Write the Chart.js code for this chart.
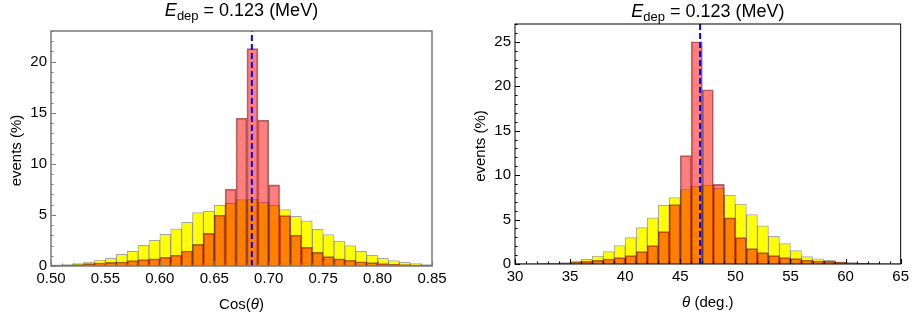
<!DOCTYPE html>
<html>
<head>
<meta charset="utf-8">
<script src="https://cdn.jsdelivr.net/npm/chart.js@4.4.1/dist/chart.umd.min.js"></script>
<style>
  body { margin: 0; background: #fff; }
  .panel { position: absolute; top: 0; height: 320px; }
</style>
</head>
<body>
<div class="panel" style="left:0;width:456px"><canvas id="cosChart" width="456" height="320"></canvas></div>
<div class="panel" style="left:456px;width:457px"><canvas id="thetaChart" width="457" height="320"></canvas></div>
<script>
// ---- data (events in %) ----
const cosEdges = [0.50, 0.51, 0.52, 0.53, 0.54, 0.55, 0.56, 0.57, 0.58, 0.59,
                  0.60, 0.61, 0.62, 0.63, 0.64, 0.65, 0.66, 0.67, 0.68, 0.69,
                  0.70, 0.71, 0.72, 0.73, 0.74, 0.75, 0.76, 0.77, 0.78, 0.79,
                  0.80, 0.81, 0.82, 0.83, 0.84];
const cosYellow = [0.12, 0.15, 0.23, 0.39, 0.59, 0.75, 1.14, 1.44, 2.03, 2.52,
                   3.10, 3.63, 4.28, 5.23, 5.36, 5.95, 6.14, 6.50, 6.54, 6.24,
                   5.95, 5.52, 4.87, 4.41, 3.60, 3.07, 2.45, 2.00, 1.44, 1.05,
                   0.75, 0.52, 0.36, 0.23, 0.13];
const cosRed = [0.07, 0.08, 0.13, 0.23, 0.29, 0.36, 0.39, 0.52, 0.62, 0.69,
                0.85, 1.05, 1.47, 2.12, 3.20, 4.97, 7.52, 14.48, 21.27, 14.28,
                7.94, 4.93, 3.01, 1.83, 1.34, 0.92, 0.69, 0.56, 0.42, 0.33,
                0.23, 0.16, 0.13, 0.10, 0.07];
const cosTicks = [0.50, 0.55, 0.60, 0.65, 0.70, 0.75, 0.80, 0.85];
const cosCountTicks = [0, 5, 10, 15, 20];
const cosPeak = 0.6845;

const thetaEdges = [30, 31, 32, 33, 34, 35, 36, 37, 38, 39,
                    40, 41, 42, 43, 44, 45, 46, 47, 48, 49,
                    50, 51, 52, 53, 54, 55, 56, 57, 58, 59,
                    60, 61, 62, 63, 64];
const thetaYellow = [0.03, 0.03, 0.05, 0.07, 0.15, 0.34, 0.53, 0.90, 1.39, 2.07,
                     2.97, 4.10, 5.19, 6.60, 7.48, 8.38, 8.76, 8.87, 8.50, 7.73,
                     6.73, 5.57, 4.29, 3.12, 2.30, 1.51, 0.83, 0.57, 0.40, 0.25,
                     0.15, 0.10, 0.06, 0.04, 0.03];
const thetaRed = [0.02, 0.02, 0.04, 0.06, 0.11, 0.23, 0.30, 0.41, 0.56, 0.71,
                  0.94, 1.39, 2.07, 3.65, 6.69, 12.2, 25.0, 19.6, 8.95, 5.19,
                  2.97, 1.73, 1.28, 0.94, 0.72, 0.60, 0.42, 0.34, 0.30, 0.20,
                  0.12, 0.07, 0.05, 0.03, 0.02];
const thetaTicks = [30, 35, 40, 45, 50, 55, 60, 65];
const thetaCountTicks = [0, 5, 10, 15, 20, 25];
const thetaPeak = 46.8;

const FONT = '"Liberation Sans", Arial, sans-serif';
Chart.defaults.font.family = FONT;
Chart.defaults.color = '#000';

// draw a line of mixed-style text centred at (x, y)
function drawRich(ctx, parts, x, y) {
    let total = 0;
    parts.forEach(p => {
        ctx.font = (p.italic ? 'italic ' : '') + p.size + 'px ' + FONT;
        p.w = ctx.measureText(p.t).width;
        total += p.w;
    });
    let cx = x - total / 2;
    ctx.textAlign = 'left';
    ctx.textBaseline = 'alphabetic';
    parts.forEach(p => {
        ctx.font = (p.italic ? 'italic ' : '') + p.size + 'px ' + FONT;
        ctx.fillText(p.t, cx, y + (p.dy || 0));
        cx += p.w;
    });
}

// frame, inward ticks and the rich-text titles
const framePlugin = {
    id: 'frame',
    afterDraw(chart, args, o) {
        const ctx = chart.ctx;
        const a = chart.chartArea;
        const xs = chart.scales.x, ys = chart.scales.y;
        ctx.save();
        ctx.strokeStyle = o.color;
        ctx.lineWidth = o.width;
        ctx.strokeRect(a.left, a.top, a.right - a.left, a.bottom - a.top);
        ctx.lineWidth = 1;
        ctx.beginPath();
        for (let v = o.xMin; v <= o.xMax + 1e-9; v += o.xMinor) {
            const px = Math.round(xs.getPixelForValue(v)) + 0.5;
            ctx.moveTo(px, a.bottom);
            ctx.lineTo(px, a.bottom - 2.5);
        }
        o.xTicks.forEach(v => {
            const px = Math.round(xs.getPixelForValue(v)) + 0.5;
            ctx.moveTo(px, a.bottom);
            ctx.lineTo(px, a.bottom - 5);
        });
        for (let v = 0; v <= o.yMax; v += 1) {
            const py = Math.round(ys.getPixelForValue(v)) + 0.5;
            ctx.moveTo(a.left, py);
            ctx.lineTo(a.left + (v % 5 === 0 ? 5 : 2.5), py);
        }
        ctx.stroke();

        ctx.fillStyle = '#000';
        const cx = (a.left + a.right) / 2;
        drawRich(ctx, [
            { t: 'E', size: 18, italic: true },
            { t: 'dep', size: 13, dy: 4 },
            { t: ' = 0.123 (MeV)', size: 18 }
        ], cx, o.titleY);
        drawRich(ctx, o.xTitle, cx, o.xTitleY);
        ctx.save();
        ctx.translate(o.yTitleX, (a.top + a.bottom) / 2 + 2);
        ctx.rotate(-Math.PI / 2);
        drawRich(ctx, [{ t: 'events (%)', size: 15 }], 0, 0);
        ctx.restore();
        ctx.restore();
    }
};

function makeHistogram(id, s) {
    const half = s.binWidth / 2;
    const toPoints = vals => s.edges.map((e, i) => ({ x: e + half, y: vals[i] }));
    return new Chart(document.getElementById(id), {
        type: 'bar',
        data: {
            datasets: [
                {
                    type: 'line',
                    data: [{ x: s.peak, y: 0 }, { x: s.peak, y: s.yMax }],
                    borderColor: '#0000ff',
                    borderWidth: 2,
                    borderDash: [6, 3],
                    pointRadius: 0,
                    order: 0
                },
                {
                    data: toPoints(s.red),
                    backgroundColor: 'rgba(255,0,0,0.5)',
                    borderColor: 'rgba(90,0,0,0.55)',
                    borderWidth: 1,
                    grouped: false,
                    barPercentage: 1,
                    categoryPercentage: 1,
                    order: 1
                },
                {
                    data: toPoints(s.yellow),
                    backgroundColor: '#ffff00',
                    borderColor: 'rgba(0,0,0,0.35)',
                    borderWidth: 1,
                    grouped: false,
                    barPercentage: 1,
                    categoryPercentage: 1,
                    order: 2
                }
            ]
        },
        options: {
            responsive: false,
            animation: false,
            layout: { padding: { top: s.box.top, right: s.box.right, left: 0, bottom: 0 } },
            scales: {
                x: {
                    type: 'linear',
                    min: s.xMin,
                    max: s.xMax,
                    offset: false,
                    grid: { display: false, drawTicks: false, offset: false },
                    border: { display: false },
                    afterBuildTicks: sc => { sc.ticks = s.xTicks.map(v => ({ value: v })); },
                    afterFit: sc => { sc.height = s.box.bottom; },
                    ticks: {
                        font: { size: 15 },
                        padding: 4,
                        maxRotation: 0,
                        autoSkip: false,
                        callback: v => v.toFixed(s.decimals)
                    }
                },
                y: {
                    min: 0,
                    max: s.yMax,
                    grid: { display: false, drawTicks: false },
                    border: { display: false },
                    afterBuildTicks: sc => { sc.ticks = s.yTicks.map(v => ({ value: v })); },
                    afterFit: sc => { sc.width = s.box.left; },
                    ticks: { font: { size: 15 }, padding: 4 }
                }
            },
            plugins: {
                legend: { display: false },
                tooltip: { enabled: false },
                frame: {
                    color: s.frameColor,
                    width: s.frameWidth,
                    xMin: s.xMin, xMax: s.xMax, xMinor: s.binWidth,
                    xTicks: s.xTicks, yMax: s.yMax,
                    titleY: s.titleY, xTitle: s.xTitle, xTitleY: s.xTitleY, yTitleX: s.yTitleX
                }
            }
        },
        plugins: [framePlugin]
    });
}

makeHistogram('cosChart', {
    edges: cosEdges, binWidth: 0.01, yellow: cosYellow, red: cosRed,
    xMin: 0.5, xMax: 0.85, yMax: 23, xTicks: cosTicks, yTicks: cosCountTicks,
    decimals: 2, peak: cosPeak,
    box: { left: 51, right: 24, top: 31, bottom: 54 },
    frameColor: '#7a7a7a', frameWidth: 1.5,
    titleY: 16, xTitleY: 309, yTitleX: 21,
    xTitle: [{ t: 'Cos(', size: 15 }, { t: 'θ', size: 15, italic: true }, { t: ')', size: 15 }]
});

makeHistogram('thetaChart', {
    edges: thetaEdges, binWidth: 1, yellow: thetaYellow, red: thetaRed,
    xMin: 30, xMax: 65, yMax: 27, xTicks: thetaTicks, yTicks: thetaCountTicks,
    decimals: 0, peak: thetaPeak,
    box: { left: 59, right: 11, top: 24, bottom: 56 },
    frameColor: '#000', frameWidth: 1,
    titleY: 17, xTitleY: 307, yTitleX: 29,
    xTitle: [{ t: 'θ', size: 15, italic: true }, { t: ' (deg.)', size: 15 }]
});
</script>
</body>
</html>
